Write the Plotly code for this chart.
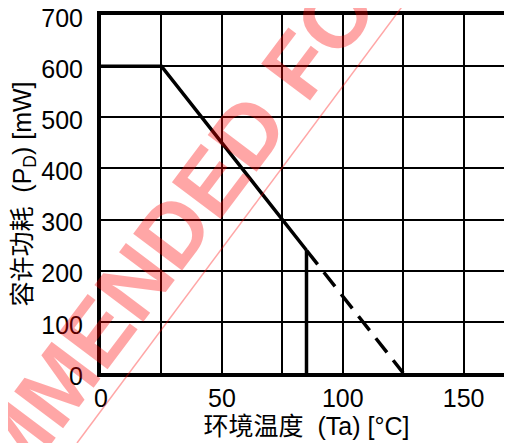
import plotly.graph_objects as go

# Data (derating curve)
temp_solid = [0, 25, 85]
pd_solid = [600, 600, 240]
temp_vert = [85, 85]
pd_vert = [240, 0]
temp_dash = [85, 125]
pd_dash = [240, 0]

x_tickvals = [0, 50, 100, 150]
x_ticktext = ["0", "50", "100", "150"]
x_minor = [25, 75, 125]
y_tickvals = [0, 100, 200, 300, 400, 500, 600, 700]
y_ticktext = ["0", "100", "200", "300", "400", "500", "600", "700"]

x_title = "环境温度  (Ta) [°C]"
y_title = "容许功耗  (P<sub>D</sub>) [mW]"
watermark = "NOT RECOMMENDED FOR NEW DESIGN"

FONT = "Liberation Sans, Arial, Noto Sans CJK SC, sans-serif"
W, H = 512, 443
OFF = 8  # page body margin
ML, MR, MT, MB = 93, 8, 7, 78
PW, PH = W - ML - MR, H - MT - MB

def px2paper(px, py):
    # window pixels -> paper coords
    fx, fy = px - OFF, py - OFF
    return (fx - ML) / PW, (H - MB - fy) / PH

fig = go.Figure()
fig.add_trace(go.Scatter(x=temp_solid, y=pd_solid, mode="lines",
                         line=dict(color="black", width=3.5), showlegend=False))
fig.add_trace(go.Scatter(x=temp_vert, y=pd_vert, mode="lines",
                         line=dict(color="black", width=3.5), showlegend=False))
fig.add_trace(go.Scatter(x=temp_dash, y=pd_dash, mode="lines",
                         line=dict(color="black", width=3.5, dash="18px,10px"),
                         showlegend=False))

fig.update_layout(
    width=W, height=H,
    margin=dict(l=ML, r=MR, t=MT, b=MB),
    plot_bgcolor="white", paper_bgcolor="white",
    font=dict(family=FONT, size=25, color="black"),
)
fig.update_xaxes(
    range=[0, 170], tickvals=x_tickvals, ticktext=x_ticktext,
    showgrid=True, gridcolor="black", gridwidth=2, zeroline=False,
    minor=dict(tickvals=x_minor, showgrid=True, gridcolor="black", gridwidth=2, ticks=""),
    showline=True, linecolor="black", linewidth=4, mirror=True,
    ticks="", ticklabelstandoff=0, ticklabeloverflow="allow",
    tickfont=dict(size=25),
    title=dict(text=x_title, font=dict(size=25), standoff=4),
    automargin="bottom",
)
fig.update_yaxes(
    range=[0, 700], tickvals=y_tickvals, ticktext=y_ticktext,
    showgrid=True, gridcolor="black", gridwidth=2, zeroline=False,
    showline=True, linecolor="black", linewidth=4,
    ticks="", ticklabelstandoff=9, ticklabelshift=3, ticklabeloverflow="allow",
    tickfont=dict(size=25),
    title=dict(text=y_title, font=dict(size=25), standoff=10),
    automargin="left",
)

# Watermark
cx, cy = px2paper(231, 154)
fig.add_annotation(
    x=cx, y=cy, xref="paper", yref="paper", text="<b>" + watermark + "</b>",
    showarrow=False, textangle=-53,
    font=dict(family="Liberation Sans, Arial", size=89, color="rgba(255,0,0,0.35)"),
    xanchor="center", yanchor="middle",
)
x0, y0 = px2paper(407, 0)
x1, y1 = px2paper(77, 443)
fig.add_shape(type="line", xref="paper", yref="paper", x0=x0, y0=y0, x1=x1, y1=y1,
              line=dict(color="rgba(255,0,0,0.35)", width=1.5), layer="above")

fig.write_html("out.html")
